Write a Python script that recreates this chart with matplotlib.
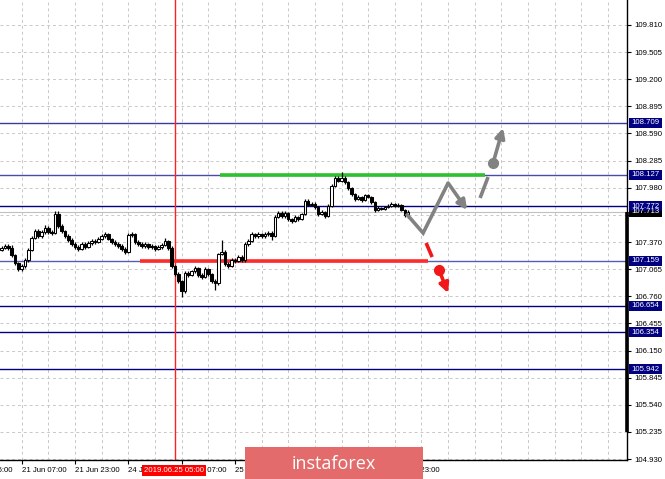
import matplotlib
matplotlib.use('Agg')
import matplotlib.pyplot as plt
from matplotlib.patches import Rectangle, FancyArrowPatch
import matplotlib.transforms as mtransforms

# ---------------- data ----------------
bar_index = list(range(-6, 117))          # hourly bars, 0 = 21 Jun 07:00
first_open = 107.280
close = [107.302, 107.325, 107.302, 107.223, 107.133, 107.066, 107.100, 107.167, 107.280, 107.415,
         107.493, 107.437, 107.482, 107.527, 107.482, 107.471, 107.685, 107.550, 107.493, 107.437,
         107.392, 107.347, 107.313, 107.291, 107.347, 107.313, 107.358, 107.381, 107.370, 107.403,
         107.437, 107.460, 107.403, 107.370, 107.347, 107.325, 107.291, 107.257, 107.448, 107.460,
         107.370, 107.347, 107.325, 107.347, 107.313, 107.325, 107.291, 107.313, 107.336, 107.381,
         107.302, 107.100, 107.010, 106.931, 106.818, 107.021, 106.998, 107.043, 107.077, 106.998,
         106.976, 107.066, 107.010, 106.931, 106.908, 107.235, 107.257, 107.122, 107.100, 107.167,
         107.156, 107.201, 107.167, 107.347, 107.381, 107.460, 107.437, 107.460, 107.437, 107.460,
         107.471, 107.437, 107.651, 107.696, 107.662, 107.696, 107.628, 107.606, 107.651, 107.628,
         107.685, 107.831, 107.786, 107.797, 107.763, 107.685, 107.707, 107.662, 107.775, 108.000,
         108.090, 108.056, 108.090, 108.045, 107.977, 107.910, 107.853, 107.876, 107.842, 107.898,
         107.876, 107.820, 107.730, 107.752, 107.741, 107.763, 107.775, 107.797, 107.775, 107.786,
         107.730, 107.673, 107.713]
high = [107.330, 107.350, 107.345, 107.340, 107.240, 107.150, 107.125, 107.190, 107.300, 107.440,
        107.520, 107.515, 107.505, 107.560, 107.545, 107.500, 107.720, 107.718, 107.570, 107.510,
        107.455, 107.410, 107.365, 107.335, 107.370, 107.365, 107.380, 107.400, 107.405, 107.425,
        107.460, 107.480, 107.475, 107.420, 107.390, 107.365, 107.345, 107.310, 107.470, 107.485,
        107.475, 107.390, 107.370, 107.365, 107.360, 107.345, 107.340, 107.335, 107.355, 107.415,
        107.395, 107.320, 107.115, 107.030, 106.945, 107.040, 107.045, 107.060, 107.100, 107.090,
        107.020, 107.085, 107.080, 107.025, 106.950, 107.250, 107.392, 107.275, 107.145, 107.185,
        107.185, 107.225, 107.220, 107.365, 107.400, 107.480, 107.475, 107.480, 107.475, 107.480,
        107.495, 107.490, 107.670, 107.720, 107.715, 107.715, 107.710, 107.645, 107.670, 107.665,
        107.700, 107.855, 107.850, 107.820, 107.815, 107.775, 107.725, 107.720, 107.795, 108.020,
        108.115, 108.110, 108.157, 108.110, 108.060, 107.990, 107.925, 107.895, 107.890, 107.915,
        107.910, 107.890, 107.835, 107.770, 107.765, 107.780, 107.795, 107.815, 107.810, 107.805,
        107.800, 107.745, 107.730]
low = [107.265, 107.290, 107.285, 107.205, 107.110, 107.040, 107.045, 107.080, 107.150, 107.265,
       107.400, 107.420, 107.420, 107.465, 107.465, 107.450, 107.460, 107.530, 107.475, 107.420,
       107.370, 107.325, 107.290, 107.265, 107.275, 107.295, 107.300, 107.340, 107.350, 107.355,
       107.390, 107.420, 107.390, 107.350, 107.330, 107.300, 107.270, 107.235, 107.245, 107.430,
       107.350, 107.330, 107.305, 107.300, 107.290, 107.295, 107.270, 107.275, 107.295, 107.320,
       107.285, 107.080, 106.990, 106.910, 106.751, 106.800, 106.980, 106.985, 107.025, 106.980,
       106.955, 106.960, 106.990, 106.910, 106.830, 106.890, 107.220, 107.100, 107.080, 107.085,
       107.135, 107.140, 107.145, 107.150, 107.330, 107.365, 107.420, 107.420, 107.415, 107.420,
       107.440, 107.392, 107.425, 107.635, 107.645, 107.645, 107.610, 107.585, 107.590, 107.610,
       107.615, 107.670, 107.770, 107.770, 107.745, 107.665, 107.670, 107.640, 107.650, 107.760,
       107.985, 108.040, 108.040, 108.025, 107.960, 107.890, 107.835, 107.840, 107.825, 107.830,
       107.860, 107.800, 107.710, 107.715, 107.725, 107.730, 107.750, 107.760, 107.760, 107.760,
       107.715, 107.655, 107.640]

levels = [108.709, 108.127, 107.772, 107.159, 106.654, 106.354, 105.942]
level_colors = ['#3a3aa0', '#4a4aac', '#000080', '#5a5ab8', '#000080', '#000080', '#000080']
current_price = 107.713
y_ticks = [104.930, 105.235, 105.540, 105.845, 106.150, 106.455, 106.760, 107.065, 107.370,
           107.675, 107.980, 108.285, 108.590, 108.895, 109.200, 109.505, 109.810]
x_tick_pos = [0, 16, 32, 48, 64, 80, 96, 112]
x_tick_labels = ['21 Jun 07:00', '21 Jun 23:00', '24 Jun 15:00', '25 Jun 07:00',
                 '25 Jun 23:00', '26 Jun 15:00', '27 Jun 07:00', '27 Jun 23:00']
offscreen_tick_pos = -16
offscreen_tick_label = '20 Jun 15:00'
event_bar = 46
event_label = '2019.06.25 05:00'

resistance = 108.127
resistance_span = [59.6, 139.1]
support = 107.159
support_span = [35.5, 122.0]

# scenario sketches (bar index, price)
bull_path_x = [115.4, 120.5, 128.0]
bull_path_y = [107.69, 107.471, 108.033]
bull_head = [(128.0, 108.033), (133.7, 107.730)]
bull_dash = [(137.6, 107.865), (140.0, 108.101)]
bull_dot = (141.5, 108.258)
bull_arrow_end = (144.5, 108.652)
bear_dash = [(121.4, 107.359), (123.2, 107.201)]
bear_dot = (125.3, 107.055)
bear_arrow_end = (128.0, 106.796)

# ---------------- figure ----------------
W, H = 665, 479
fig = plt.figure(figsize=(W / 100, H / 100), dpi=100)
fig.patch.set_facecolor('white')
ax = fig.add_axes([0, 19 / H, 627 / W, 460 / H])
ax.set_facecolor('white')

XLIM = (-6.52, 181.7)
YLIM = (104.919, 110.091)

FONT = 'Liberation Sans'
FS = 5.6

# grid
for yv in y_ticks:
    ax.axhline(yv, color='#c8c8c8', lw=0.7, ls=(0, (3, 3)), zorder=0)
for xv in range(0, 184, 8):
    ax.axvline(xv, color='#c8c8c8', lw=0.7, ls=(0, (3, 3)), zorder=0)

# level lines
for lv, lc in zip(levels, level_colors):
    ax.axhline(lv, color=lc, lw=1.0, zorder=1)
ax.axhline(current_price, color='#c0c0c0', lw=0.8, zorder=1)

# event vertical line
ax.axvline(event_bar, color='#ff2020', lw=1.0, zorder=2)

# support / resistance segments
ax.plot(resistance_span, [resistance, resistance], color='#2ec02e', lw=2.6, zorder=3,
        solid_capstyle='butt')
ax.plot(support_span, [support, support], color='#ff2a2a', lw=2.6, zorder=3,
        solid_capstyle='butt')

# candles
prev = first_open
for xi, c, hi, lo in zip(bar_index, close, high, low):
    o = prev
    ax.plot([xi, xi], [lo, hi], color='black', lw=0.9, zorder=4, solid_capstyle='butt')
    bottom = min(o, c)
    height = max(abs(c - o), 0.006)
    bull = c >= o
    ax.add_patch(Rectangle((xi - 0.38, bottom), 0.76, height,
                           facecolor='white' if bull else 'black',
                           edgecolor='black', lw=0.75, zorder=5))
    prev = c

# scenario arrows
grey = '#828282'
ax.plot(bull_path_x, bull_path_y, color=grey, lw=2.6, zorder=6, solid_capstyle='butt',
        solid_joinstyle='miter')
ax.add_patch(FancyArrowPatch(bull_head[0], bull_head[1], arrowstyle='-|>', mutation_scale=14,
                             color=grey, lw=2.6, zorder=6, shrinkA=0, shrinkB=0))
ax.plot([p[0] for p in bull_dash], [p[1] for p in bull_dash], color=grey, lw=2.6, zorder=6,
        solid_capstyle='butt')
ax.plot([bull_dot[0]], [bull_dot[1]], 'o', color=grey, ms=7, zorder=6)
ax.add_patch(FancyArrowPatch(bull_dot, bull_arrow_end, arrowstyle='-|>', mutation_scale=14,
                             color=grey, lw=2.6, zorder=6, shrinkA=0, shrinkB=0))

red = '#f01818'
ax.plot([p[0] for p in bear_dash], [p[1] for p in bear_dash], color=red, lw=2.6, zorder=6,
        solid_capstyle='butt')
ax.plot([bear_dot[0]], [bear_dot[1]], 'o', color=red, ms=7, zorder=6)
ax.add_patch(FancyArrowPatch(bear_dot, bear_arrow_end, arrowstyle='-|>', mutation_scale=14,
                             color=red, lw=2.6, zorder=6, shrinkA=0, shrinkB=0))

# spines / axes
for s in ['left', 'top']:
    ax.spines[s].set_visible(False)
ax.spines['right'].set_color('black')
ax.spines['bottom'].set_color('black')
ax.spines['right'].set_linewidth(1.0)
ax.spines['bottom'].set_linewidth(1.0)

ax.yaxis.tick_right()
ax.set_yticks(y_ticks)
ax.set_yticklabels([f'{v:.3f}' for v in y_ticks], fontsize=FS, family=FONT)
ax.tick_params(axis='y', direction='out', length=3, width=0.8, pad=2, colors='black')

ax.set_xticks(x_tick_pos)
ax.set_xticklabels(x_tick_labels, fontsize=FS, family=FONT, ha='left')
ax.tick_params(axis='x', direction='out', length=3, width=0.8, pad=2, colors='black')

# limits set after ticks (set_ticks may widen the view)
ax.set_xlim(*XLIM)
ax.set_ylim(*YLIM)

bt = mtransforms.blended_transform_factory(ax.transData, ax.transAxes)
# label of the tick just left of the visible range (only its tail shows)
ax.text(offscreen_tick_pos, -0.0225, offscreen_tick_label, transform=bt, ha='left',
        va='center', fontsize=FS, family=FONT, color='black', clip_on=False)

# thick black bar on price scale
yt = ax.get_yaxis_transform()
ax.plot([1.0, 1.0], [105.235, current_price], transform=yt, color='black', lw=2.6,
        clip_on=False, zorder=7, solid_capstyle='butt')

# price-scale boxes
box_w = 33 / 627
box_h = 10 / 88.93
def price_box(val, fc):
    ax.add_patch(Rectangle((1.0 + 1.5 / 627, val - box_h / 2), box_w, box_h, transform=yt,
                           facecolor=fc, edgecolor='none', clip_on=False, zorder=8))
    ax.text(1.0 + 1.5 / 627 + box_w / 2, val, f'{val:.3f}', transform=yt, ha='center',
            va='center', color='white', fontsize=FS, family=FONT, clip_on=False, zorder=9)

price_box(current_price, 'black')
for lv in levels:
    price_box(lv, '#000080')

# event date label
ax.text(event_bar - 0.2, -0.0225, event_label, transform=bt, ha='center', va='center',
        color='white', fontsize=FS, family=FONT, clip_on=False, zorder=9,
        bbox=dict(boxstyle='square,pad=0.25', facecolor='#ff0000', edgecolor='none'))

ax.set_xlim(*XLIM)
ax.set_ylim(*YLIM)

# watermark
fig.add_artist(Rectangle((245 / W, 0), 178 / W, 32 / H, transform=fig.transFigure,
                         facecolor='#e36b6b', edgecolor='none', zorder=20))
fig.text(334 / W, 15 / H, 'instaforex', color='white', fontsize=13, ha='center',
         va='center', family='Open Sans', zorder=21)

fig.savefig('out.png', dpi=100)
